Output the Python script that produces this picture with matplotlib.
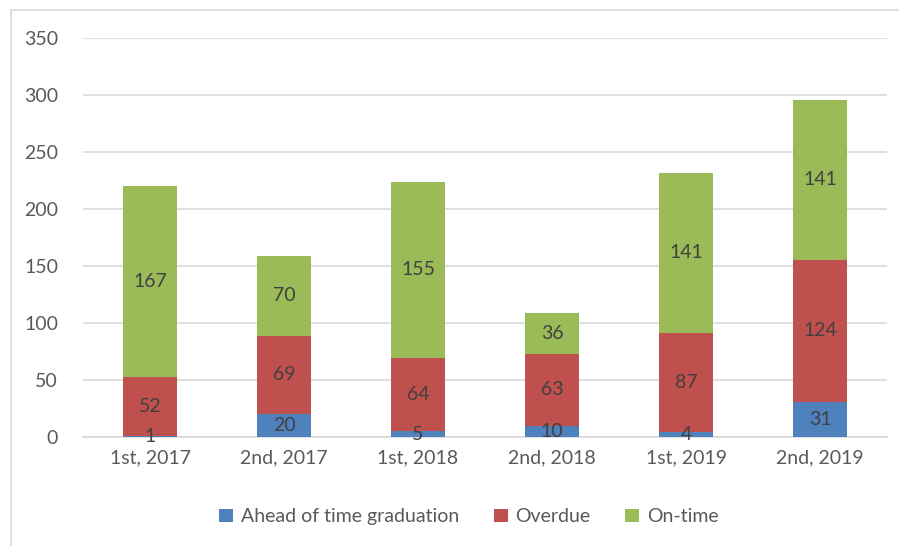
import matplotlib.pyplot as plt
import numpy as np
from matplotlib.patches import Rectangle

categories = ["1st, 2017", "2nd, 2017", "1st, 2018", "2nd, 2018", "1st, 2019", "2nd, 2019"]
ahead = [1, 20, 5, 10, 4, 31]
overdue = [52, 69, 64, 63, 87, 124]
ontime = [167, 70, 155, 36, 141, 141]

series = [("Ahead of time graduation", ahead, "#4F81BD"),
          ("Overdue", overdue, "#C0504D"),
          ("On-time", ontime, "#9BBB59")]

plt.rcParams['font.family'] = ['Lato', 'DejaVu Sans']

fig = plt.figure(figsize=(8.99, 5.46), dpi=100)
ax = fig.add_axes([83 / 899, 1 - 437 / 546, 804 / 899, 399 / 546])

x = np.arange(len(categories))
bottom = np.zeros(len(categories))
for name, vals, col in series:
    bars = ax.bar(x, vals, 0.4, bottom=bottom, color=col, label=name, zorder=3)
    for b, v, bt in zip(bars, vals, bottom):
        ax.text(b.get_x() + b.get_width() / 2, bt + v / 2, str(v),
                ha="center", va="center", fontsize=14, color="#404040", zorder=4)
    bottom += np.array(vals)

ax.set_xlim(-0.5, len(categories) - 0.5)
ax.set_ylim(0, 350)
ax.set_yticks(range(0, 351, 50))
ax.set_xticks(x)
ax.set_xticklabels(categories)
ax.yaxis.grid(True, color="#D9D9D9", linewidth=1.2, zorder=0)
for s in ["top", "right", "left"]:
    ax.spines[s].set_visible(False)
ax.spines["bottom"].set_color("#D9D9D9")
ax.spines["bottom"].set_linewidth(1.2)
ax.tick_params(axis="both", length=0, labelsize=14, labelcolor="#595959")
ax.tick_params(axis="y", pad=18)
ax.tick_params(axis="x", pad=9)

leg = ax.legend(loc="center", bbox_to_anchor=(0.48, -0.2), ncol=3, frameon=False,
                fontsize=14, handlelength=0.7, handleheight=0.7,
                handletextpad=0.4, columnspacing=1.8)
for t in leg.get_texts():
    t.set_color("#595959")

fig.patches.append(Rectangle((11 / 899, -0.1), 1.2, 1 - 10 / 546 + 0.1,
                             transform=fig.transFigure, fill=False,
                             edgecolor="#D9D9D9", linewidth=1.2))

fig.savefig("out.png", dpi=100)
